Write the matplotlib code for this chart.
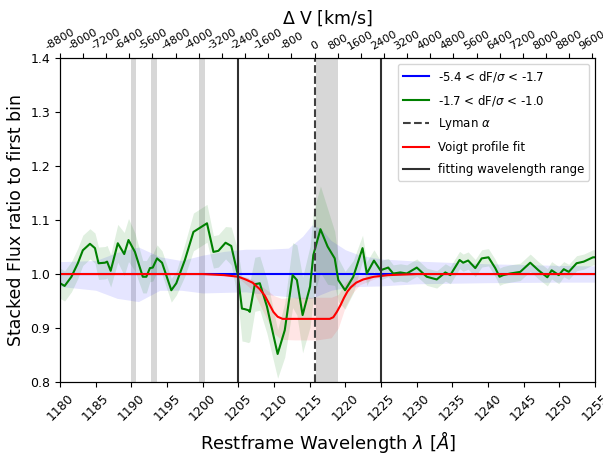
import numpy as np
import matplotlib
matplotlib.use("Agg")
import matplotlib.pyplot as plt

# stacked flux ratio, second bin
wl_green = [1180.0, 1180.65, 1181.6, 1182.5, 1183.2, 1184.2, 1184.9, 1185.4, 1186.3, 1186.6,
            1187.1, 1188.1, 1189.0, 1189.6, 1190.5, 1191.6, 1192.1, 1192.6, 1193.0, 1193.6,
            1194.3, 1195.6, 1196.3, 1197.5, 1198.7, 1200.6, 1201.5, 1202.2, 1203.2, 1204.0,
            1204.9, 1205.5, 1205.9, 1206.4, 1206.6, 1207.3, 1208.0, 1209.0, 1210.5, 1211.5,
            1212.6, 1213.2, 1214.0, 1215.05, 1215.5, 1216.5, 1217.5, 1218.5, 1219.0, 1219.95,
            1221.1, 1222.4, 1223.0, 1224.0, 1224.9, 1226.0, 1226.7, 1227.7, 1228.6, 1230.0,
            1231.4, 1232.8, 1234.0, 1234.7, 1236.0, 1236.5, 1237.2, 1238.2, 1239.1, 1240.05,
            1241.0, 1241.6, 1242.1, 1243.1, 1244.5, 1245.9, 1247.05, 1248.3, 1248.9, 1249.9,
            1250.6, 1251.3, 1252.4, 1253.4, 1254.7, 1255.0]
flux_green = [0.983, 0.978, 0.995, 1.020, 1.044, 1.056, 1.048, 1.020, 1.021, 1.023,
              1.006, 1.057, 1.037, 1.063, 1.041, 0.995, 0.995, 1.011, 1.012, 1.029,
              1.021, 0.970, 0.983, 1.026, 1.078, 1.094, 1.041, 1.043, 1.058, 1.052,
              1.000, 0.936, 0.935, 0.933, 0.930, 0.981, 0.983, 0.940, 0.852, 0.896,
              0.998, 0.989, 0.924, 0.977, 1.035, 1.083, 1.051, 1.029, 0.989, 0.970,
              0.995, 1.048, 1.001, 1.025, 1.007, 1.012, 1.001, 1.003, 1.001, 1.012,
              0.995, 0.990, 1.003, 0.998, 1.026, 1.021, 1.025, 1.011, 1.029, 1.031,
              1.011, 0.995, 0.998, 1.001, 1.004, 1.021, 1.007, 0.994, 1.007, 0.998,
              1.009, 1.004, 1.020, 1.023, 1.031, 1.031]
err_green = [0.028, 0.028, 0.028, 0.028, 0.028, 0.028, 0.028, 0.03, 0.03, 0.03,
             0.03, 0.035, 0.04, 0.04, 0.035, 0.03, 0.03, 0.025, 0.025, 0.025,
             0.022, 0.022, 0.022, 0.03, 0.035, 0.035, 0.03, 0.03, 0.03, 0.035,
             0.045, 0.06, 0.06, 0.06, 0.055, 0.05, 0.05, 0.05, 0.045, 0.05,
             0.06, 0.065, 0.07, 0.075, 0.08, 0.08, 0.07, 0.05, 0.04, 0.035,
             0.03, 0.024, 0.022, 0.02, 0.018, 0.017, 0.016, 0.016, 0.016, 0.016,
             0.016, 0.016, 0.016, 0.016, 0.016, 0.016, 0.016, 0.016, 0.016, 0.016,
             0.016, 0.016, 0.016, 0.016, 0.016, 0.016, 0.016, 0.016, 0.016, 0.016,
             0.014, 0.014, 0.014, 0.014, 0.014, 0.014]

# first bin (reference) uncertainty band around 1
wl_blue = [1180, 1185, 1188, 1191, 1194, 1197, 1200, 1203, 1206, 1209, 1212, 1214,
           1215.3, 1216.5, 1218, 1220, 1222, 1225, 1230, 1240, 1250, 1255]
blue_hi = [1.023, 1.025, 1.04, 1.05, 1.032, 1.025, 1.035, 1.042, 1.046, 1.046, 1.048, 1.07,
           1.091, 1.085, 1.062, 1.045, 1.035, 1.028, 1.024, 1.019, 1.016, 1.015]
blue_lo = [0.977, 0.97, 0.955, 0.949, 0.97, 0.97, 0.965, 0.966, 0.967, 0.962, 0.958, 0.954,
           0.955, 0.962, 0.97, 0.975, 0.977, 0.978, 0.982, 0.984, 0.985, 0.985]

# Voigt profile fit and its band
wl_fit = [1180, 1200, 1203, 1205, 1206, 1207, 1208, 1208.7, 1209.3, 1209.9, 1210.5, 1211.2,
          1217.8, 1218.3, 1218.8, 1219.3, 1219.8, 1220.3, 1220.8, 1221.5, 1222.5, 1224,
          1226, 1230, 1255]
flux_fit = [1.0, 1.0, 0.998, 0.995, 0.99, 0.984, 0.972, 0.96, 0.945, 0.93, 0.921, 0.917,
            0.917, 0.92, 0.93, 0.942, 0.956, 0.968, 0.976, 0.984, 0.99, 0.995,
            0.998, 1.0, 1.0]
wl_fitband = [1205, 1207, 1208.5, 1210, 1211, 1213, 1216, 1218, 1219, 1220, 1221, 1222, 1225]
fit_hi = [0.997, 0.99, 0.975, 0.96, 0.955, 0.957, 0.957, 0.957, 0.962, 0.985, 0.995, 0.998, 1.0]
fit_lo = [0.993, 0.97, 0.93, 0.89, 0.879, 0.878, 0.878, 0.882, 0.9, 0.94, 0.965, 0.98, 0.996]

masked = [(1190.0, 1190.7), (1192.8, 1193.6), (1199.5, 1200.3), (1215.9, 1219.0)]
fit_range = [1205, 1225]
lya = 1215.67
c_kms = 299792.458
vel_ticks = np.arange(-8800, 9601, 800)

fig = plt.figure(figsize=(6.03, 4.57), dpi=100)
ax = fig.add_axes([0.0995, 0.164, 0.8875, 0.709])

for a, b in masked:
    ax.axvspan(a, b, color='lightgray', alpha=0.9, lw=0, zorder=0)

ax.fill_between(wl_blue, blue_lo, blue_hi, color='blue', alpha=0.1, lw=0)
ax.fill_between(wl_green, np.array(flux_green) - np.array(err_green),
                np.array(flux_green) + np.array(err_green), color='green', alpha=0.12, lw=0)
ax.fill_between(wl_fitband, fit_lo, fit_hi, color='red', alpha=0.1, lw=0)

ax.plot([1180, 1255], [1.0, 1.0], color='blue', lw=1.5, label=r'-5.4 < dF/$\sigma$ < -1.7')
ax.plot(wl_green, flux_green, color='green', lw=1.5, label=r'-1.7 < dF/$\sigma$ < -1.0')
ax.axvline(lya, color='#404040', ls='--', lw=1.5, label=r'Lyman $\alpha$')
ax.plot(wl_fit, flux_fit, color='red', lw=1.5, label='Voigt profile fit')
for i, w in enumerate(fit_range):
    ax.axvline(w, color='#303030', lw=1.5, label='fitting wavelength range' if i == 0 else None)

ax.set_xlim(1180, 1255)
ax.set_ylim(0.8, 1.4)
ax.set_xticks(np.arange(1180, 1256, 5))
ax.tick_params(axis='x', labelrotation=45, labelsize=9)
ax.tick_params(axis='y', labelsize=9)
ax.set_xlabel(r'Restframe Wavelength $\lambda$ [$\AA$]', fontsize=13)
ax.set_ylabel('Stacked Flux ratio to first bin', fontsize=12.5)
ax.legend(loc='upper right', fontsize=8.5, handlelength=2.2, labelspacing=0.75)

# velocity axis on top
ax2 = ax.twiny()
ax2.set_xlim(ax.get_xlim())
pos = np.clip(lya * (1 + vel_ticks / c_kms), 1180, 1255)
ax2.set_xticks(pos)
ax2.set_xticklabels([str(v) for v in vel_ticks], rotation=30, fontsize=8)
ax2.tick_params(axis='x', pad=1)
ax2.set_xlabel(r'$\Delta$ V [km/s]', fontsize=12.5, labelpad=2)

fig.savefig('out.png', dpi=100)
